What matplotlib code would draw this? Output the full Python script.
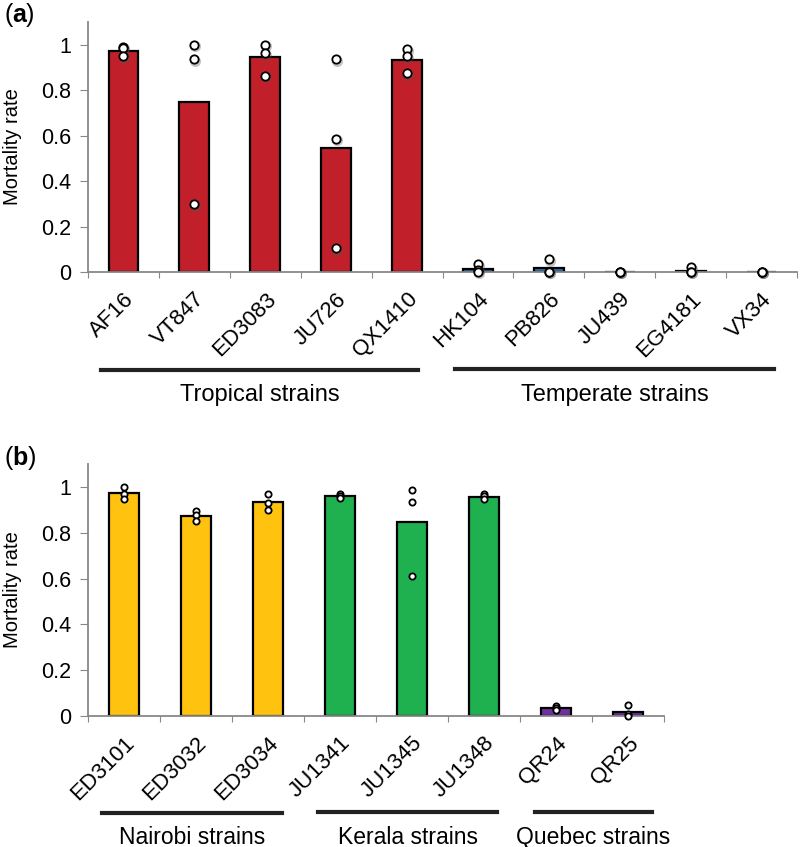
import matplotlib
matplotlib.use("Agg")
import matplotlib.pyplot as plt
from matplotlib.lines import Line2D
import matplotlib.transforms as mtransforms

plt.rcParams['font.family'] = ['Liberation Sans', 'DejaVu Sans']

# ---------------- data ----------------
strains_a = ["AF16", "VT847", "ED3083", "JU726", "QX1410",
             "HK104", "PB826", "JU439", "EG4181", "VX34"]
means_a = [0.974, 0.747, 0.946, 0.545, 0.934, 0.015, 0.018, 0.0, 0.006, 0.0]
points_a = [[0.99, 0.985, 0.95], [1.0, 0.935, 0.297], [1.0, 0.963, 0.864],
            [0.937, 0.586, 0.105], [0.981, 0.949, 0.874],
            [0.034, 0.01, 0.0], [0.055, 0.0, 0.0], [0.0, 0.0, 0.0],
            [0.02, 0.0, 0.0], [0.0, 0.0, 0.0]]
groups_a = ["tropical"] * 5 + ["temperate"] * 5

strains_b = ["ED3101", "ED3032", "ED3034", "JU1341", "JU1345", "JU1348", "QR24", "QR25"]
means_b = [0.972, 0.875, 0.933, 0.959, 0.845, 0.956, 0.036, 0.019]
points_b = [[1.0, 0.971, 0.946], [0.895, 0.878, 0.85], [0.971, 0.93, 0.899],
            [0.968, 0.96, 0.953], [0.985, 0.934, 0.613], [0.971, 0.959, 0.948],
            [0.044, 0.035, 0.028], [0.046, 0.01, 0.0]]
groups_b = ["nairobi"] * 3 + ["kerala"] * 3 + ["quebec"] * 2

yticks = [0, 0.2, 0.4, 0.6, 0.8, 1.0]
yticklabels = ["0", "0.2", "0.4", "0.6", "0.8", "1"]

colors = {"tropical": "#C1202A", "temperate": "#2F74B5", "nairobi": "#FFC20E",
          "kerala": "#1FB04F", "quebec": "#7030A0"}

W, H = 800, 847
fig = plt.figure(figsize=(W / 100, H / 100), dpi=100)


def fx(px):
    return px / W


def fy(py):
    return 1 - py / H


def make_panel(rect, strains, means, points, groups, ms, shadow):
    ax = fig.add_axes(rect)
    n = len(strains)
    x = list(range(n))
    ax.bar(x, means, width=0.42, color=[colors[g] for g in groups],
           edgecolor="black", linewidth=1.6, zorder=2)
    for i, pts in enumerate(points):
        xs = [i] * len(pts)
        if shadow:
            off = mtransforms.offset_copy(ax.transData, fig=fig, x=1.0, y=-1.5, units='dots')
            ax.plot(xs, pts, 'o', ms=ms + 2, color='#555555', alpha=0.35,
                    markeredgewidth=0, transform=off, zorder=3, clip_on=False)
        ax.plot(xs, pts, 'o', ms=ms, markerfacecolor='white', markeredgecolor='black',
                markeredgewidth=1.3, zorder=4, clip_on=False)
    ax.set_xlim(-0.5, n - 0.5)
    ax.set_ylim(0, 1.1)
    ax.set_yticks(yticks)
    ax.set_yticklabels(yticklabels, fontsize=15.5)
    ax.set_xticks([i - 0.5 for i in range(n + 1)])
    ax.set_xticklabels([])
    ax.set_xticks(x, minor=True)
    ax.set_xticklabels(strains, minor=True, rotation=45, ha='right',
                       rotation_mode='anchor', fontsize=16)
    shift = mtransforms.ScaledTranslation(4 / 100, 0, fig.dpi_scale_trans)
    for lab in ax.get_xticklabels(minor=True):
        lab.set_transform(lab.get_transform() + shift)
    ax.tick_params(axis='x', which='minor', length=0, pad=12)
    ax.tick_params(axis='x', which='major', length=4, color='#888888', direction='out')
    ax.tick_params(axis='y', length=6, color='#888888', direction='out', pad=6)
    for s in ['top', 'right']:
        ax.spines[s].set_visible(False)
    for s in ['left', 'bottom']:
        ax.spines[s].set_color('#888888')
        ax.spines[s].set_linewidth(1.3)
    ax.set_ylabel("Mortality rate", fontsize=14.5)
    return ax


# panel a
ax_a = make_panel([fx(88), fy(272), fx(797) - fx(88), fy(22) - fy(272)],
                  strains_a, means_a, points_a, groups_a, ms=6, shadow=True)
# panel b
ax_b = make_panel([fx(88), fy(716), fx(664) - fx(88), fy(464) - fy(716)],
                  strains_b, means_b, points_b, groups_b, ms=4.5, shadow=False)
for ax in (ax_a, ax_b):
    pos = ax.get_position()
    ax.yaxis.set_label_coords(fx(22), (pos.y0 + pos.y1) / 2, transform=fig.transFigure)

renderer = fig.canvas.get_renderer()


def panel_label(letter, x_px, y_px):
    t1 = fig.text(fx(x_px), fy(y_px), "(", fontsize=18, va='center', ha='left')
    bb = t1.get_window_extent(renderer)
    t2 = fig.text(bb.x1 / W, fy(y_px), letter, fontsize=18, va='center', ha='left',
                  fontweight='bold')
    bb2 = t2.get_window_extent(renderer)
    fig.text(bb2.x1 / W, fy(y_px), ")", fontsize=18, va='center', ha='left')


panel_label("a", 4, 15)
panel_label("b", 4, 458)

group_lines = [
    (101, 418, 370, 395, "Tropical strains", 17),
    (455, 774, 369, 395, "Temperate strains", 17),
    (102, 282, 813, 837, "Nairobi strains", 16.5),
    (318, 497, 812, 837, "Kerala strains", 16.5),
    (535, 652, 812, 837, "Quebec strains", 16.5),
]
for x0, x1, yl, yt, label, fs in group_lines:
    fig.add_artist(Line2D([fx(x0), fx(x1)], [fy(yl), fy(yl)], color='#222222', lw=3))
    fig.text(fx((x0 + x1) / 2), fy(yt), label, fontsize=fs, ha='center', va='center')

fig.savefig("out.png", dpi=100)
